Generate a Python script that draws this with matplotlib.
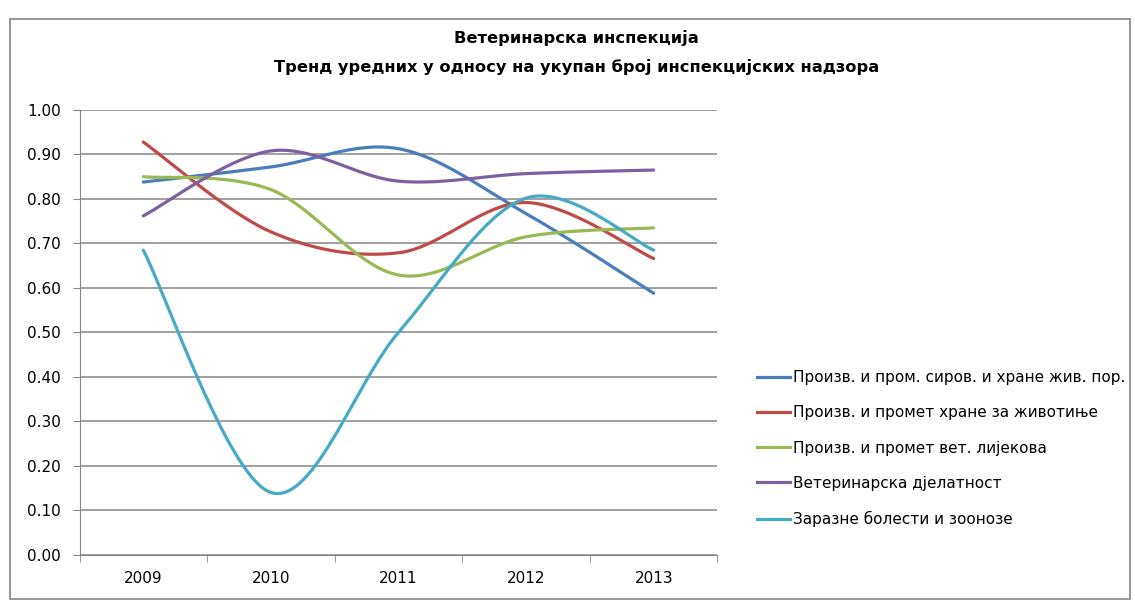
import numpy as np
import matplotlib.pyplot as plt
from matplotlib.lines import Line2D

years = ['2009', '2010', '2011', '2012', '2013']
labels = ['Произв. и пром. сиров. и хране жив. пор.',
          'Произв. и промет хране за животиње',
          'Произв. и промет вет. лијекова',
          'Ветеринарска дјелатност',
          'Заразне болести и зоонозе']

sirov = [0.838, 0.872, 0.913, 0.767, 0.588]
hrana = [0.928, 0.726, 0.679, 0.792, 0.666]
lijek = [0.850, 0.821, 0.629, 0.715, 0.735]
djel = [0.762, 0.908, 0.840, 0.857, 0.865]
zaraz = [0.685, 0.140, 0.500, 0.802, 0.685]

colors = ['#4A7EBB', '#BE4B48', '#98B954', '#7D60A0', '#46AAC5']


def smooth(y, n=40):
    # Excel-like smoothed line: cubic bezier, control points from neighbours / 6
    y = np.asarray(y, dtype=float)
    x = np.arange(len(y), dtype=float)
    pts = np.column_stack([x, y])
    ext = np.vstack([pts[0], pts, pts[-1]])
    out = []
    t = np.linspace(0, 1, n)[:, None]
    for i in range(len(pts) - 1):
        p0, p3 = ext[i + 1], ext[i + 2]
        p1 = p0 + (ext[i + 2] - ext[i]) / 6
        p2 = p3 - (ext[i + 3] - ext[i + 1]) / 6
        seg = ((1 - t) ** 3) * p0 + 3 * ((1 - t) ** 2) * t * p1 + 3 * (1 - t) * t ** 2 * p2 + t ** 3 * p3
        out.append(seg)
    out = np.vstack(out)
    return out[:, 0], out[:, 1]


fig = plt.figure(figsize=(11.35, 6), dpi=100)
ax = fig.add_axes([79.5 / 1135, 45.2 / 600, 638 / 1135, 444.8 / 600])

series = [sirov, hrana, lijek, djel, zaraz]
for vals, c, lab in zip(series, colors, labels):
    sx, sy = smooth(vals)
    ax.plot(sx, sy, color=c, lw=2.3, label=lab, solid_capstyle='round')

ax.set_xlim(-0.5, 4.5)
ax.set_ylim(0, 1.0)
ax.set_yticks(np.arange(0, 1.01, 0.1))
ax.set_yticklabels(['%.2f' % v for v in np.arange(0, 1.01, 0.1)])
ax.set_xticks(range(5))
ax.set_xticklabels(years)
ax.set_xticks(np.arange(-0.5, 4.6, 1), minor=True)
ax.tick_params(axis='x', which='major', length=0, labelsize=11, pad=12)
ax.tick_params(axis='x', which='minor', length=5, color='#868686', direction='out')
ax.tick_params(axis='y', length=5, color='#868686', labelsize=11, pad=8.5)
ax.grid(axis='y', color='#868686', lw=1.1)
ax.set_axisbelow(True)
for s in ['top', 'right']:
    ax.spines[s].set_visible(False)
for s in ['left', 'bottom']:
    ax.spines[s].set_color('#868686')

fig.text(0.508, 1 - 38 / 600, 'Ветеринарска инспекција', ha='center', va='center',
         fontsize=11.7, fontweight='bold')
fig.text(0.508, 1 - 67 / 600, 'Тренд уредних у односу на укупан број инспекцијских надзора',
         ha='center', va='center', fontsize=11.7, fontweight='bold')

handles = [Line2D([], [], color=c, lw=2.3) for c in colors]
fig.legend(handles, labels, loc='upper left', bbox_to_anchor=(743 / 1135, 1 - 356.5 / 600),
           frameon=False, fontsize=11, handlelength=2.2, handletextpad=0.2,
           labelspacing=1.32)

border = plt.Rectangle((10 / 1135, 0.002), 1120 / 1135, 580 / 600, transform=fig.transFigure,
                       fill=False, ec='#868686', lw=1.2)
fig.patches.append(border)

fig.savefig('out.png', dpi=100)
